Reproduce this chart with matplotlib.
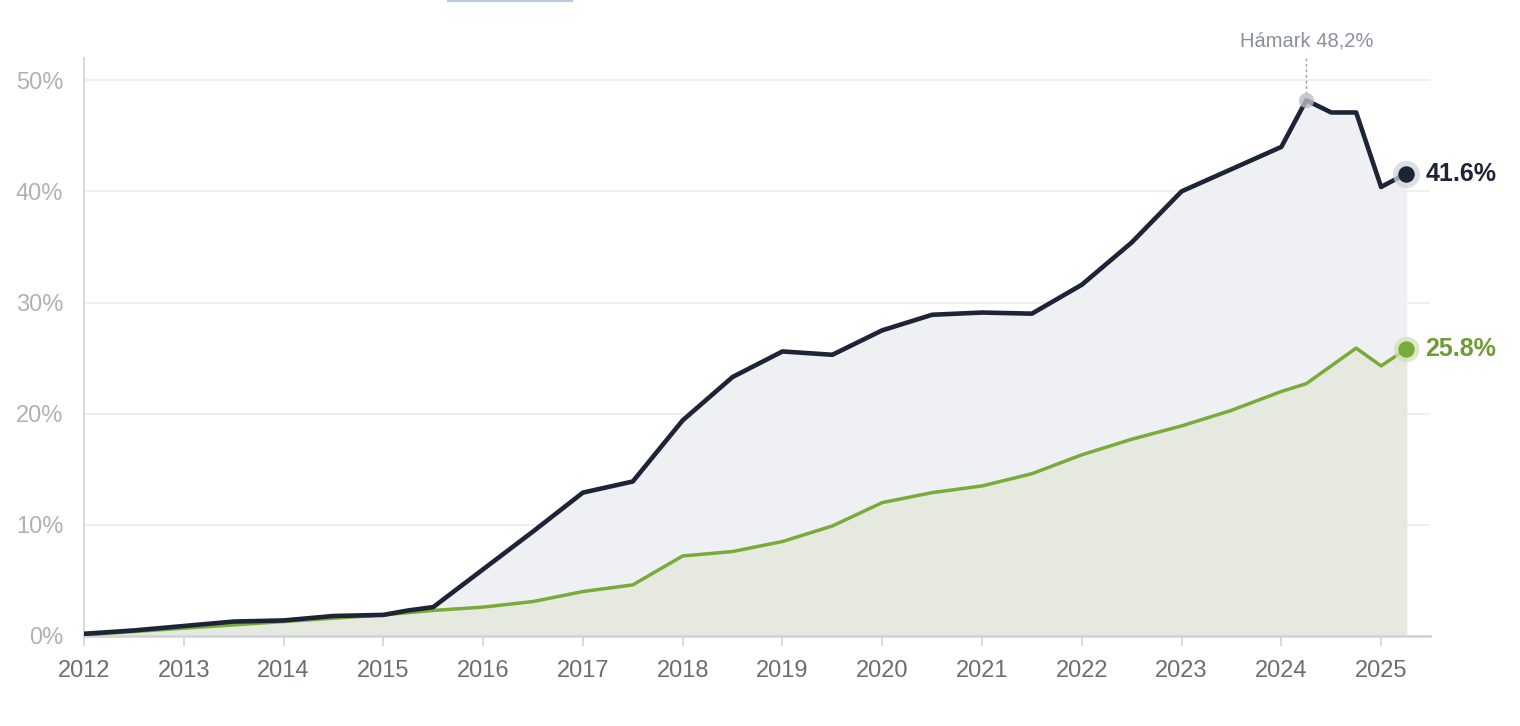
import matplotlib.pyplot as plt
from matplotlib.patches import Rectangle

# Data, x in decimal years, y in percent
years = [2012, 2012.5, 2013, 2013.5, 2014, 2014.5, 2015, 2015.25, 2015.5,
         2016, 2016.5, 2017, 2017.5, 2018, 2018.5, 2019, 2019.5, 2020,
         2020.5, 2021, 2021.5, 2022, 2022.5, 2023, 2023.5, 2024, 2024.25,
         2024.5, 2024.75, 2025, 2025.25]
dark_share = [0.2, 0.5, 0.9, 1.3, 1.4, 1.8, 1.9, 2.3, 2.6,
              6.0, 9.4, 12.9, 13.9, 19.4, 23.3, 25.6, 25.3, 27.5,
              28.9, 29.1, 29.0, 31.6, 35.4, 40.0, 42.0, 44.0, 48.2,
              47.1, 47.1, 40.4, 41.6]
green_share = [0.1, 0.4, 0.7, 1.0, 1.3, 1.6, 1.9, 2.1, 2.3,
               2.6, 3.1, 4.0, 4.6, 7.2, 7.6, 8.5, 9.9, 12.0,
               12.9, 13.5, 14.6, 16.3, 17.7, 18.9, 20.3, 22.0, 22.7,
               24.3, 25.9, 24.3, 25.8]
year_ticks = list(range(2012, 2026))
pct_ticks = [0, 10, 20, 30, 40, 50]
peak_label = "Hámark 48,2%"

dark = "#1c2436"
green = "#7aab3a"

plt.rcParams["font.family"] = ["Liberation Sans", "DejaVu Sans"]

fig = plt.figure(figsize=(15.2, 7.26), dpi=100)
ax = fig.add_axes([84 / 1520, 90 / 726, (1430 - 84) / 1520, (668 - 90) / 726])

# Filled areas
ax.fill_between(years, dark_share, color="#eff0f3", zorder=1)
ax.fill_between(years, green_share, color="#e5e9df", zorder=2)

# Lines
ax.plot(years, dark_share, color=dark, lw=3.3, zorder=4, solid_joinstyle="round")
ax.plot(years, green_share, color=green, lw=2.5, zorder=3, solid_joinstyle="round")

# End markers with halo
ax.scatter([years[-1]], [dark_share[-1]], s=380, color="#d0d3da", alpha=0.75, zorder=5, lw=0)
ax.scatter([years[-1]], [dark_share[-1]], s=140, color=dark, zorder=6, lw=0)
ax.scatter([years[-1]], [green_share[-1]], s=340, color="#cfe2b6", alpha=0.75, zorder=5, lw=0)
ax.scatter([years[-1]], [green_share[-1]], s=140, color=green, zorder=6, lw=0)

ax.annotate(f"{dark_share[-1]:.1f}%", (years[-1], dark_share[-1]), xytext=(14, 0),
            textcoords="offset points", va="center", ha="left",
            fontsize=18, fontweight="bold", color=dark)
ax.annotate(f"{green_share[-1]:.1f}%", (years[-1], green_share[-1]), xytext=(14, 0),
            textcoords="offset points", va="center", ha="left",
            fontsize=18, fontweight="bold", color="#6f9a36")

# Peak annotation
peak_i = dark_share.index(max(dark_share))
px, py = years[peak_i], dark_share[peak_i]
ax.scatter([px], [py], s=120, color="#b8bcc4", alpha=0.8, zorder=5, lw=0)
ax.plot([px, px], [py + 0.6, py + 4.1], color="#9aa0a8", lw=1.0, ls=(0, (2, 2)),
        zorder=4, clip_on=False)
ax.text(px, py + 4.5, peak_label, ha="center", va="bottom", fontsize=14.5,
        color="#8a9099", clip_on=False)

# Axes styling
ax.set_xlim(2012, 2025.49)
ax.set_ylim(0, 52)
ax.set_xticks(year_ticks)
ax.set_xticklabels([str(y) for y in year_ticks])
ax.set_yticks(pct_ticks)
ax.set_yticklabels([f"{p}%" for p in pct_ticks])
ax.tick_params(axis="x", length=7, width=1.2, color="#d0d3d8", labelsize=17,
               labelcolor="#6a6e74", pad=10)
ax.tick_params(axis="y", length=0, labelsize=17, labelcolor="#aeb2b8", pad=15)
ax.grid(axis="y", color="#ececee", lw=1.2, zorder=0)
ax.set_axisbelow(True)
for side in ["top", "right"]:
    ax.spines[side].set_visible(False)
ax.spines["left"].set_color("#d8dbe0")
ax.spines["left"].set_linewidth(1.5)
ax.spines["bottom"].set_color("#cfd2d7")
ax.spines["bottom"].set_linewidth(1.8)

# Thin blue bar at top edge (cropped UI element in the reference)
fig.patches.append(Rectangle((447 / 1520, 724 / 726), 126 / 1520, 2 / 726,
                             transform=fig.transFigure, color="#b9c9e6", lw=0))

fig.savefig("out.png", dpi=100)
plt.close(fig)
